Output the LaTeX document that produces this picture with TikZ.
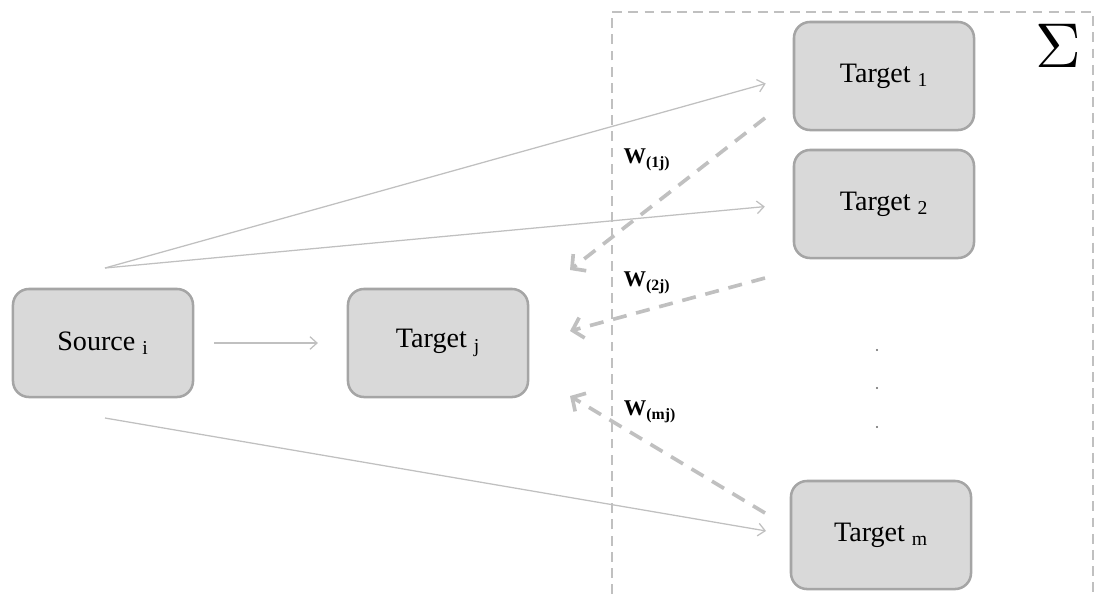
\documentclass[tikz,border=0pt]{standalone}
\usepackage{fontspec}
\setmainfont{Liberation Serif}
\usetikzlibrary{shapes,arrows,arrows.meta,positioning,calc}

\definecolor{boxfill}{RGB}{217,217,217}
\definecolor{boxline}{RGB}{165,165,165}
\definecolor{linkgray}{RGB}{192,192,192}

\begin{document}
\begin{tikzpicture}[x=0.025cm, y=-0.025cm,
    box/.style={draw=boxline, fill=boxfill, line width=1.8pt, rounded corners=0.4cm, minimum width=4.5cm, minimum height=2.7cm, font=\fontsize{20}{24}\selectfont},
    link/.style={-{Straight Barb[length=5pt,width=9pt]}, draw=linkgray, line width=0.9pt},
    weight/.style={-{Straight Barb[length=7pt,width=15pt]}, draw=linkgray, line width=2.6pt, dash pattern=on 10pt off 7pt},
    wlabel/.style={font=\fontsize{16}{18}\selectfont\bfseries}]
    \useasboundingbox (0,0) rectangle (1095,594);

    % group of targets
    \draw [draw=linkgray, line width=1.3pt, dash pattern=on 7pt off 4.5pt] (612,594) -- (612,12) -- (1093,12) -- (1093,594);
    \node (sum) at (1058,46) {\scalebox{4.5}{$\Sigma$}};

    \node (source) [box] at (103,343) {Source \textsubscript{i}};
    \node (targetj) [box] at (438,343) {Target \textsubscript{j}};
    \node (target1) [box] at (884,76) {Target \textsubscript{1}};
    \node (target2) [box] at (884,204) {Target \textsubscript{2}};
    \node (targetm) [box] at (881,535) {Target \textsubscript{m}};

    \fill [black!60] (877,350) circle (1.2) (877,388) circle (1.2) (877,427) circle (1.2);

    % free ends of the links
    \coordinate (srctop) at (105,268);
    \coordinate (srcbot) at (105,418);
    \coordinate (w1start) at (765,118);
    \coordinate (w1end) at (570,270);
    \coordinate (w2start) at (765,278);
    \coordinate (w2end) at (570,331);
    \coordinate (wmstart) at (765,513);
    \coordinate (wmend) at (570,396);

    \draw [link, shorten <=0.5cm, shorten >=0.72cm] (source) -- (targetj);
    \draw [link, shorten >=0.7cm] (srctop) -- (target1.west);
    \draw [link, shorten >=0.7cm] (srctop) -- (target2.west);
    \draw [link, shorten >=0.6cm] (srcbot) -- (targetm.west);

    \draw [weight] (w1start) -- (w1end);
    \draw [weight] (w2start) -- (w2end);
    \draw [weight] (wmstart) -- (wmend);

    \node (w1) [wlabel] at (647,160) {W\textsubscript{(1j)}};
    \node (w2) [wlabel] at (647,283) {W\textsubscript{(2j)}};
    \node (wm) [wlabel] at (650,412) {W\textsubscript{(mj)}};
\end{tikzpicture}
\end{document}
